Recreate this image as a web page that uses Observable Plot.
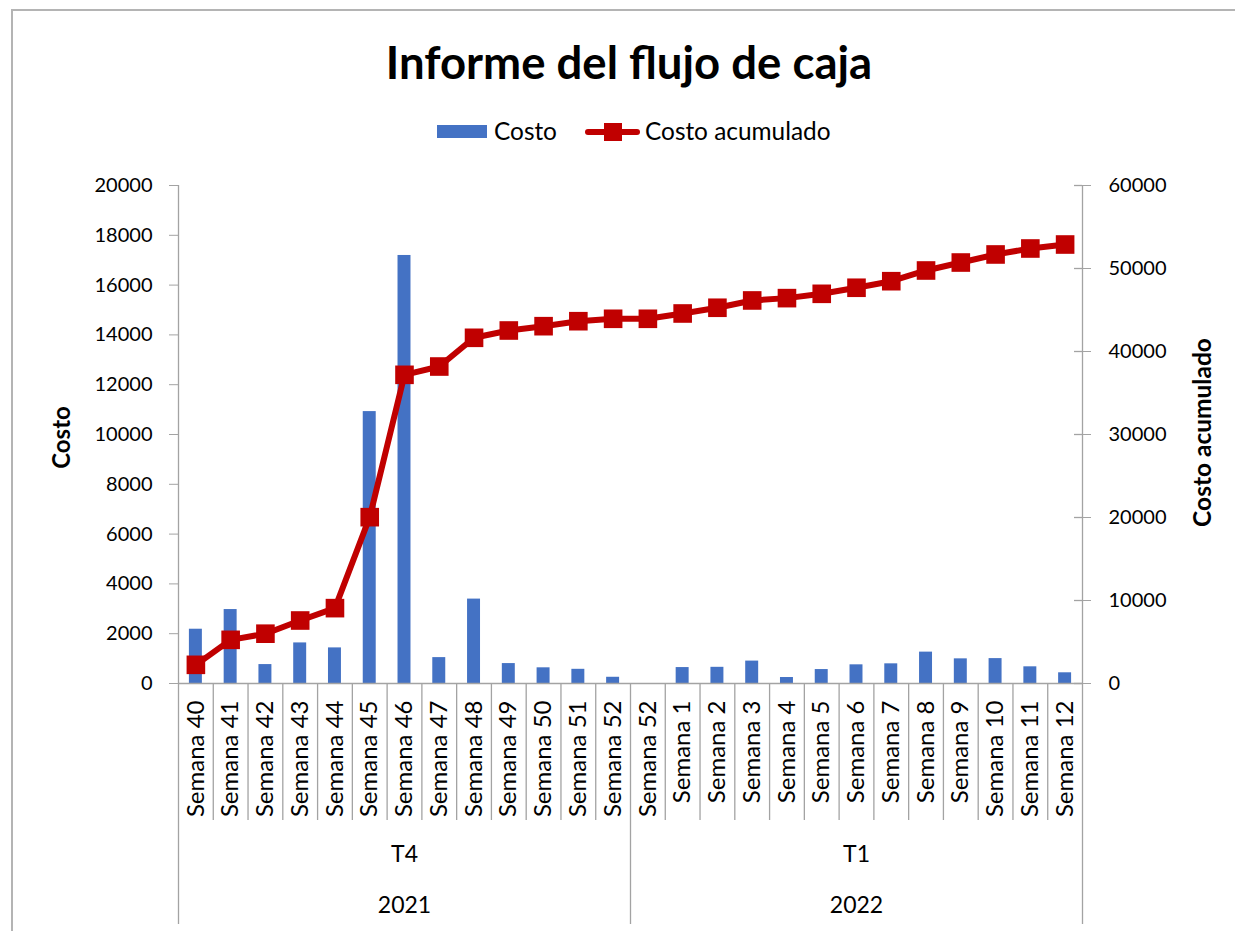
<!DOCTYPE html>
<html>
<head>
<meta charset="utf-8">
<script src="https://cdn.jsdelivr.net/npm/d3@7"></script>
<script src="https://cdn.jsdelivr.net/npm/@observablehq/plot@0.6"></script>
<style>
  body { margin: 0; background: #fff; font-family: Lato, sans-serif; color: #000; }
  #wrap { position: relative; width: 1235px; height: 931px; overflow: hidden; background: #fff; }
  #border { position: absolute; left: 11px; top: 9px; width: 1400px; height: 1200px; border: 2px solid #b4b4b4; box-sizing: border-box; }
  #title { position: absolute; left: 29px; width: 1200px; top: 33px; text-align: center; font-weight: bold; font-size: 45.5px; line-height: 58px; white-space: nowrap; }
  .leg { position: absolute; }
  .legtxt { position: absolute; font-size: 24.4px; line-height: 30px; top: 116px; white-space: nowrap; }
  #chart { position: absolute; left: 0; top: 160px; }
</style>
</head>
<body>
<div id="wrap">
  <div id="border"></div>
  <div id="title">Informe del flujo de caja</div>
  <div class="leg" style="left:437px;top:125px;width:50px;height:13px;background:#4472C4;"></div>
  <div class="legtxt" style="left:494px;">Costo</div>
  <div class="leg" style="left:585px;top:128.5px;width:55px;height:6px;border-radius:3px;background:#C00000;"></div>
  <div class="leg" style="left:604px;top:122.5px;width:18px;height:18px;background:#C00000;"></div>
  <div class="legtxt" style="left:645px;">Costo acumulado</div>
  <div id="chart"></div>
</div>
<script>
// ---- data ----
const weeks = ["Semana 40","Semana 41","Semana 42","Semana 43","Semana 44","Semana 45","Semana 46","Semana 47","Semana 48","Semana 49","Semana 50","Semana 51","Semana 52",
               "Semana 52","Semana 1","Semana 2","Semana 3","Semana 4","Semana 5","Semana 6","Semana 7","Semana 8","Semana 9","Semana 10","Semana 11","Semana 12"];
const quarters = ["T4","T4","T4","T4","T4","T4","T4","T4","T4","T4","T4","T4","T4",
                  "T1","T1","T1","T1","T1","T1","T1","T1","T1","T1","T1","T1","T1"];
const years = ["2021","2021","2021","2021","2021","2021","2021","2021","2021","2021","2021","2021","2021",
               "2022","2022","2022","2022","2022","2022","2022","2022","2022","2022","2022","2022","2022"];
const costo = [2180, 2970, 760, 1630, 1430, 10920, 17190, 1040, 3390, 800, 630, 570, 250,
               0, 640, 650, 900, 240, 560, 750, 790, 1260, 990, 1000, 670, 430];
const acumulado = [2250, 5260, 6000, 7590, 9080, 20040, 37190, 38190, 41650, 42530, 43050, 43650, 43940,
                   43940, 44580, 45270, 46150, 46430, 46950, 47680, 48470, 49760, 50720, 51690, 52410, 52890];
const leftTicks = [0, 2000, 4000, 6000, 8000, 10000, 12000, 14000, 16000, 18000, 20000];
const rightTicks = [0, 10000, 20000, 30000, 40000, 50000, 60000];
const leftMax = 20000, rightMax = 60000;

// ---- derived ----
const ratio = rightMax / leftMax;
const idx = weeks.map((_, i) => i);
function groupsOf(arr) {
  const out = [];
  arr.forEach((v, i) => {
    if (!out.length || out[out.length - 1].label !== v) out.push({label: v, from: i, to: i});
    else out[out.length - 1].to = i;
  });
  out.forEach(g => g.mid = Math.floor((g.from + g.to) / 2));
  return out;
}
const qGroups = groupsOf(quarters);
const yGroups = groupsOf(years);
const groupStarts = yGroups.map(g => g.from);
const inner = idx.filter(i => !groupStarts.includes(i));

const W = 1235, H = 771, mL = 178, mR = 153, mT = 25, mB = 248;
const plotW = W - mL - mR, plotH = H - mT - mB;
const bw = plotW / weeks.length;
const gray = "#a3a3a3";
const red = "#C00000", blue = "#4472C4";

const chart = Plot.plot({
  width: W, height: H,
  marginLeft: mL, marginRight: mR, marginTop: mT, marginBottom: mB,
  style: {fontFamily: "Lato, sans-serif", fontSize: "20px", color: "#000", background: "transparent", overflow: "visible"},
  x: {type: "band", domain: idx, padding: 0, round: false, axis: null},
  y: {domain: [0, leftMax], axis: null},
  marks: [
    Plot.barY(idx, {x: i => i, y: i => costo[i], fill: blue, insetLeft: 10.9, insetRight: 10.9}),
    // category separators
    Plot.ruleX(inner, {x: i => i, dx: -bw / 2, stroke: gray, strokeWidth: 1.3, insetTop: plotH, insetBottom: -137}),
    Plot.ruleX(groupStarts.filter(i => i > 0), {x: i => i, dx: -bw / 2, stroke: gray, strokeWidth: 1.3, insetTop: plotH, insetBottom: -241}),
    Plot.ruleX([0], {x: i => i, dx: -bw / 2, stroke: gray, strokeWidth: 1.3, insetBottom: -241}),
    Plot.ruleX([idx.length - 1], {x: i => i, dx: bw / 2, stroke: gray, strokeWidth: 1.3, insetBottom: -241}),
    Plot.ruleY([0], {stroke: gray, strokeWidth: 1.3}),
    // left axis
    Plot.axisY({anchor: "left", ticks: leftTicks, tickSize: 9, tickPadding: 17, stroke: gray, label: null, fontSize: 20, tickFormat: d => String(d)}),
    // right axis
    Plot.axisY({anchor: "right", ticks: rightTicks.map(v => v / ratio), tickSize: 8, tickPadding: 18, stroke: gray, label: null, fontSize: 20, tickFormat: d => String(Math.round(d * ratio))}),
    Plot.tickY(rightTicks.map(v => v / ratio), {y: d => d, stroke: gray, strokeWidth: 1.3, insetLeft: plotW - 8}),
    // week labels
    Plot.axisX({anchor: "bottom", tickSize: 0, tickPadding: 17, tickRotate: -90, textAnchor: "end", fontSize: 24, label: null, tickFormat: i => weeks[i]}),
    // group labels
    Plot.text(qGroups, {x: d => d.mid, text: d => d.label, frameAnchor: "bottom", dy: 178, fontSize: 23}),
    Plot.text(yGroups, {x: d => d.mid, text: d => d.label, frameAnchor: "bottom", dy: 229, fontSize: 23}),
    // axis titles
    Plot.text(["Costo"], {frameAnchor: "left", dx: -116, dy: 3, rotate: -90, textAnchor: "middle", fontWeight: "bold", fontSize: 24}),
    Plot.text(["Costo acumulado"], {frameAnchor: "right", dx: 121, dy: -2, rotate: -90, textAnchor: "middle", fontWeight: "bold", fontSize: 24.5}),
    // cumulative line
    Plot.line(idx, {x: i => i, y: i => acumulado[i] / ratio, stroke: red, strokeWidth: 6, strokeLinejoin: "round", strokeLinecap: "round"}),
    Plot.dot(idx, {x: i => i, y: i => acumulado[i] / ratio, symbol: "square", r: 10.5, fill: red, stroke: "none"})
  ]
});
document.getElementById("chart").appendChild(chart);
</script>
</body>
</html>
